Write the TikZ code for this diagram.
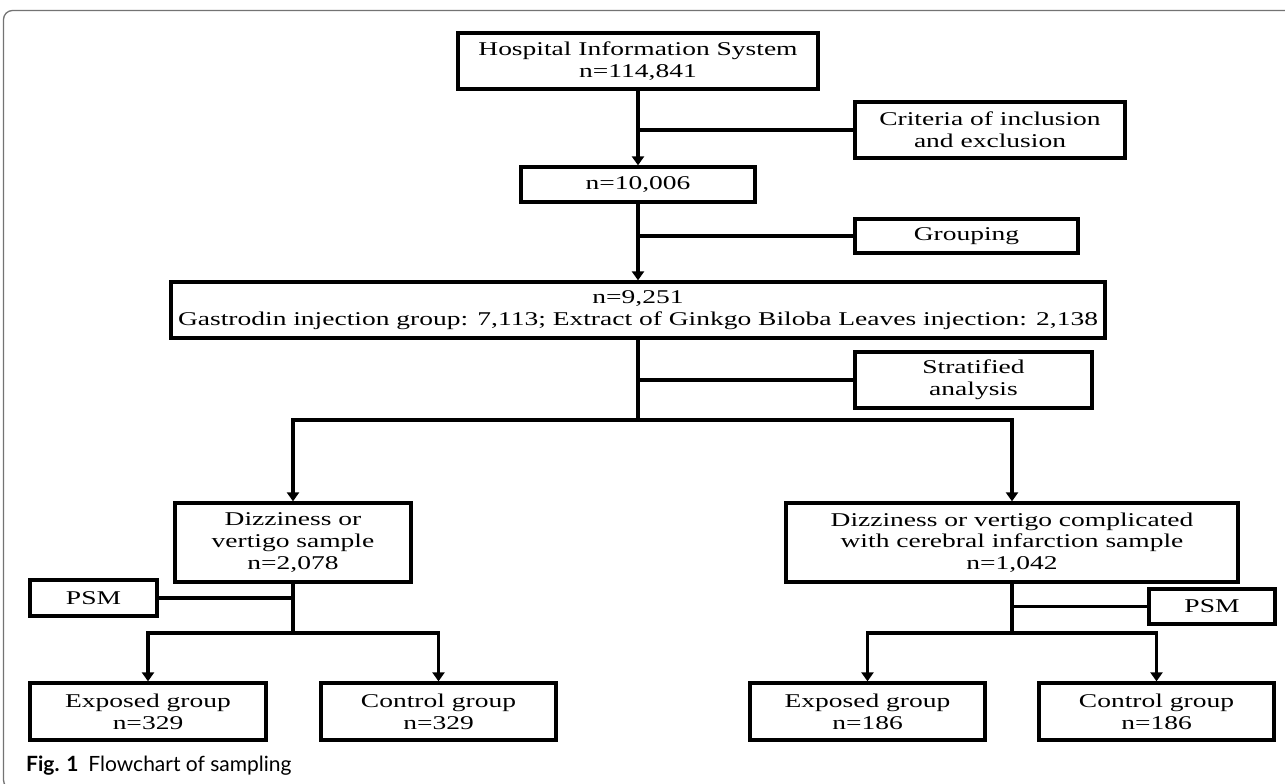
\documentclass[tikz,border=0pt]{standalone}
\usepackage{fontspec}
\setmainfont{Liberation Serif}
\newfontfamily\boxfont{Liberation Serif}[FakeStretch=1.41]
\newfontfamily\capfont{Lato}
\usetikzlibrary{arrows.meta}
\begin{document}
\begin{tikzpicture}[x=1pt,y=-1pt,
  box/.style={draw=black, line width=3.3pt, fill=white, align=center, inner sep=0pt,
    font=\boxfont\fontsize{19.5}{21.7}\selectfont},
  conn/.style={line width=3.2pt},
  arr/.style={conn, -{Triangle[width=12pt,length=9pt]}},
  frame/.style={draw=black!55, line width=1.3pt, rounded corners=9pt}]
\useasboundingbox (0,0) rectangle (1285,784);
\clip (0,0) rectangle (1285,784);
\fill[white] (0,0) rectangle (1285,784);
\draw[frame] (3.5,10.5) rectangle (1300,789);

% nodes
\node[box, minimum width=360pt, minimum height=56pt] (hosp) at (638,61) {Hospital Information System\\n=114,841};
\node[box, minimum width=270pt, minimum height=56pt] (crit) at (990,130) {Criteria of inclusion\\and exclusion};
\node[box, minimum width=234pt, minimum height=35pt] (n1) at (638,184.5) {n=10,006};
\node[box, minimum width=223pt, minimum height=34pt] (grp) at (966.5,236) {Grouping};
\node[box, minimum width=934pt, minimum height=56pt] (n2) at (638,310) {n=9,251\\Gastrodin injection group: 7,113; Extract of Ginkgo Biloba Leaves injection: 2,138};
\node[box, minimum width=237pt, minimum height=56pt] (strat) at (973.5,380) {Stratified\\analysis};
\node[box, minimum width=236pt, minimum height=79pt] (dizL) at (293,542.5) {Dizziness or\\vertigo sample\\n=2,078};
\node[box, minimum width=452pt, minimum height=79pt] (dizR) at (1012,542.5) {Dizziness or vertigo complicated\\with cerebral infarction sample\\n=1,042};
\node[box, minimum width=127pt, minimum height=36pt] (psmL) at (93.5,598) {PSM};
\node[box, minimum width=126pt, minimum height=35pt] (psmR) at (1212,606.5) {PSM};
\node[box, minimum width=236pt, minimum height=57pt] (expL) at (148,711.5) {Exposed group\\n=329};
\node[box, minimum width=235pt, minimum height=57pt] (conL) at (438.5,711.5) {Control group\\n=329};
\node[box, minimum width=235pt, minimum height=57pt] (expR) at (867.5,711.5) {Exposed group\\n=186};
\node[box, minimum width=235pt, minimum height=57pt] (conR) at (1156.5,711.5) {Control group\\n=186};

% junctions
\coordinate (split) at (638,420);
\coordinate (splitL) at (293,633);
\coordinate (splitR) at (1012,633);

% connectors
\draw[arr] (hosp.south) -- (n1.north);
\draw[conn] (crit.west) -- (crit.west -| hosp.south);
\draw[arr] (n1.south) -- (n2.north);
\draw[conn] (grp.west) -- (grp.west -| n1.south);
\draw[conn] (n2.south) -- (split);
\draw[conn] (strat.west) -- (strat.west -| split);
\draw[arr] (split) -| (dizL.north);
\draw[arr] (split) -| (dizR.north);
\draw[conn] (dizL.south) -- (splitL);
\draw[conn] (psmL.east) -- (psmL.east -| splitL);
\draw[arr] (splitL) -| (expL.north);
\draw[arr] (splitL) -| (conL.north);
\draw[conn] (dizR.south) -- (splitR);
\draw[conn] (psmR.west) -- (psmR.west -| splitR);
\draw[arr] (splitR) -| (expR.north);
\draw[arr] (splitR) -| (conR.north);

% caption
\node[anchor=base west, inner sep=0pt, font=\capfont\fontsize{21}{25}\selectfont] (cap) at (26,771)
  {\textbf{Fig. 1}\hspace{10pt}Flowchart of sampling};
\end{tikzpicture}
\end{document}
